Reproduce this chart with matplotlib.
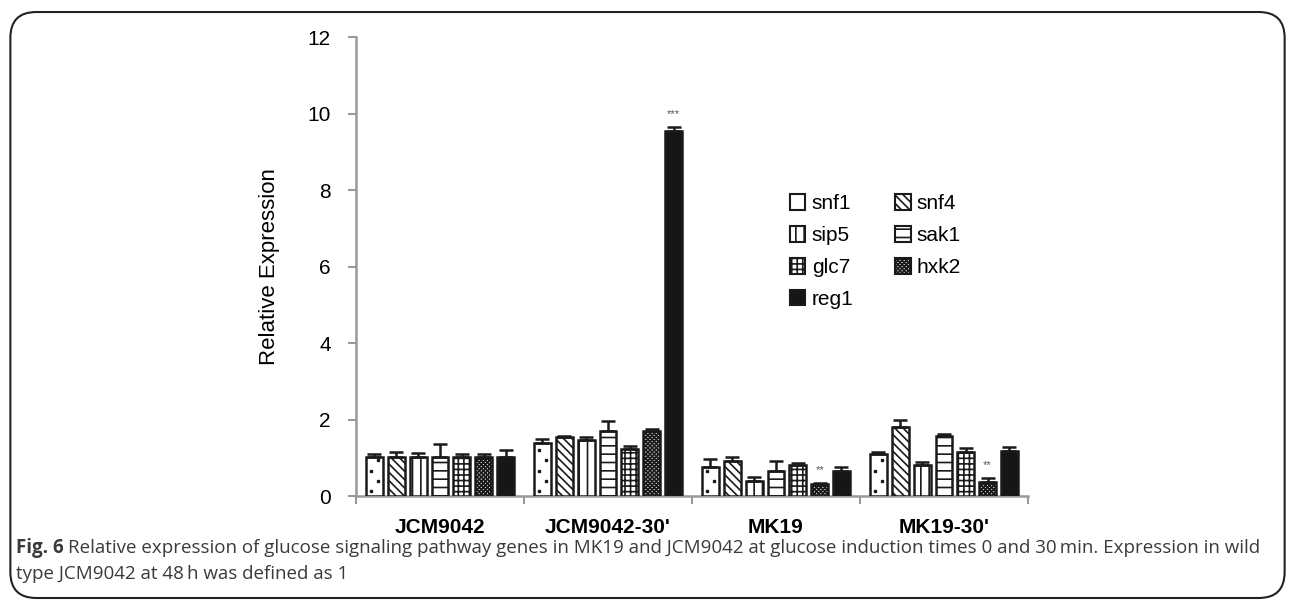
import numpy as np
import matplotlib.pyplot as plt
from matplotlib.patches import FancyBboxPatch, Patch

plt.rcParams['font.family'] = ['Liberation Sans', 'DejaVu Sans']
plt.rcParams['hatch.linewidth'] = 1.2

groups = ["JCM9042", "JCM9042-30'", "MK19", "MK19-30'"]
genes = ["snf1", "snf4", "sip5", "sak1", "glc7", "hxk2", "reg1"]

# mean expression per gene for each group
snf1 = [1.03, 1.38, 0.77, 1.10]
snf4 = [1.03, 1.53, 0.92, 1.81]
sip5 = [1.03, 1.46, 0.40, 0.82]
sak1 = [1.03, 1.71, 0.66, 1.57]
glc7 = [1.03, 1.24, 0.82, 1.14]
hxk2 = [1.03, 1.71, 0.31, 0.37]
reg1 = [1.03, 9.54, 0.65, 1.18]

# upper error
snf1_err = [0.07, 0.12, 0.20, 0.05]
snf4_err = [0.12, 0.05, 0.11, 0.19]
sip5_err = [0.09, 0.09, 0.09, 0.06]
sak1_err = [0.33, 0.26, 0.26, 0.05]
glc7_err = [0.07, 0.07, 0.05, 0.11]
hxk2_err = [0.07, 0.03, 0.04, 0.10]
reg1_err = [0.17, 0.11, 0.10, 0.09]

values = [snf1, snf4, sip5, sak1, glc7, hxk2, reg1]
errors = [snf1_err, snf4_err, sip5_err, sak1_err, glc7_err, hxk2_err, reg1_err]
hatches = [None, '\\\\\\\\', '||', '--', '+++', 'xxxxxxxx', None]
faces = ['white'] * 5 + ['#dddddd', '#161616']

# significance marks: (group index, gene index, text)
marks = [(1, 6, '***'), (2, 5, '**'), (3, 5, '**')]

fig = plt.figure(figsize=(12.95, 6.01), dpi=100)
ax = fig.add_axes([0.2749, 0.1747, 0.5189, 0.7637])

x = np.arange(len(groups))
pitch = 0.13
width = 0.10
for i, gene in enumerate(genes):
    pos = x + (i - 3) * pitch
    ax.bar(pos, values[i], width, color=faces[i], edgecolor='#1a1a1a',
           linewidth=1.8, hatch=hatches[i], zorder=3)
    ax.errorbar(pos, values[i], yerr=[np.zeros(len(groups)), errors[i]],
                fmt='none', ecolor='#1a1a1a', elinewidth=1.8, capsize=5,
                capthick=1.8, zorder=4)

# sparse dot texture for snf1 bars
for g in range(len(groups)):
    cx = x[g] - 3 * pitch
    h = snf1[g]
    for j, yy in enumerate(np.arange(0.12, h - 0.05, 0.27)):
        off = -0.022 if j % 2 == 0 else 0.022
        ax.plot(cx + off, yy, 's', ms=1.8, color='#1a1a1a', zorder=4)

for g, k, txt in marks:
    top = values[k][g] + errors[k][g]
    ax.text(x[g] + (k - 3) * pitch, top + 0.2, txt, ha='center', va='bottom',
            fontsize=8, color='#555555')

ax.set_xlim(-0.5, 3.5)
ax.set_ylim(0, 12)
ax.set_yticks(range(0, 13, 2))
ax.set_xticks(x)
ax.set_xticklabels(groups, fontsize=15, fontweight='bold')
ax.set_xticks(np.arange(-0.5, 4, 1), minor=True)
ax.tick_params(axis='x', which='major', length=0, pad=16)
ax.tick_params(axis='x', which='minor', length=6, color='#999999', width=1.5)
ax.tick_params(axis='y', length=6, color='#999999', width=1.5, labelsize=15, pad=12)
for s in ['top', 'right']:
    ax.spines[s].set_visible(False)
for s in ['left', 'bottom']:
    ax.spines[s].set_color('#999999')
    ax.spines[s].set_linewidth(1.8)
ax.set_ylabel('Relative Expression', fontsize=16, labelpad=20)

handles = [Patch(facecolor=faces[i], edgecolor='#1a1a1a', linewidth=1.5,
                 hatch=hatches[i], label=genes[i]) for i in range(len(genes))]
order = [0, 2, 4, 6, 1, 3, 5]
ax.legend([handles[i] for i in order], [genes[i] for i in order], ncol=2,
          loc='upper left', bbox_to_anchor=(0.63, 0.68), frameon=False,
          fontsize=15, handlelength=0.75, handleheight=0.75, handletextpad=0.3,
          columnspacing=2.0, labelspacing=0.62, borderpad=0)

fig.patches.append(FancyBboxPatch((0.008, 0.005), 0.984, 0.975,
                                  boxstyle='round,pad=0,rounding_size=0.02',
                                  transform=fig.transFigure, fill=False,
                                  edgecolor='#222222', linewidth=1.5,
                                  mutation_aspect=1295 / 601))

cap_font = ['Open Sans', 'DejaVu Sans']
cap_col = '#3a3a3a'
t = fig.text(0.012, 0.08, 'Fig. 6', fontsize=13.5, fontweight='bold',
             family=cap_font, color=cap_col)
fig.canvas.draw()
bb = t.get_window_extent().transformed(fig.transFigure.inverted())
fig.text(bb.x1 + 0.004, 0.08, 'Relative expression of glucose signaling pathway genes in MK19 and '
         'JCM9042 at glucose induction times 0 and 30\u2009min. Expression in wild',
         fontsize=13.5, family=cap_font, color=cap_col)
fig.text(0.012, 0.037, 'type JCM9042 at 48\u2009h was defined as 1', fontsize=13.5,
         family=cap_font, color=cap_col)

fig.savefig('out.png', dpi=100)
